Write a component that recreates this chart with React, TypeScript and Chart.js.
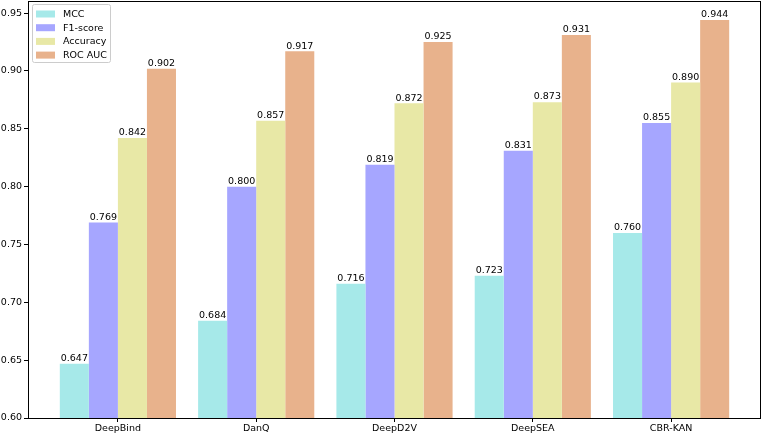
import { useEffect, useRef } from "react";
import Chart from "chart.js/auto";

const categories = ["DeepBind", "DanQ", "DeepD2V", "DeepSEA", "CBR-KAN"];
const seriesNames = ["MCC", "F1-score", "Accuracy", "ROC AUC"];
const mcc = [0.647, 0.684, 0.716, 0.723, 0.76];
const f1 = [0.769, 0.8, 0.819, 0.831, 0.855];
const accuracy = [0.842, 0.857, 0.872, 0.873, 0.89];
const rocAuc = [0.902, 0.917, 0.925, 0.931, 0.944];
const yTicks = [0.6, 0.65, 0.7, 0.75, 0.8, 0.85, 0.9, 0.95];

const colors = ["#a6e9e9", "#a6a6ff", "#e8e8a6", "#e8b28c"];
const FONT = "'DejaVu Sans', sans-serif";
const FONT_SIZE = 9.5;

const frameAndLabels = {
  id: "frameAndLabels",
  afterDatasetsDraw(chart: any) {
    const { ctx, chartArea } = chart;
    ctx.save();
    // value labels above the bars
    ctx.font = `${FONT_SIZE}px ${FONT}`;
    ctx.fillStyle = "#000";
    ctx.textAlign = "center";
    ctx.textBaseline = "bottom";
    chart.data.datasets.forEach((ds: any, i: number) => {
      const meta = chart.getDatasetMeta(i);
      meta.data.forEach((bar: any, j: number) => {
        ctx.fillText(ds.data[j].y.toFixed(3), bar.x, bar.y - 0.5);
      });
    });
    // frame
    ctx.strokeStyle = "#000";
    ctx.lineWidth = 1;
    ctx.strokeRect(
      Math.round(chartArea.left) + 0.5,
      Math.round(chartArea.top) + 0.5,
      Math.round(chartArea.right - chartArea.left) - 1,
      Math.round(chartArea.bottom - chartArea.top),
    );
    // legend
    const lx = chartArea.left + 4;
    const ly = chartArea.top + 3;
    ctx.fillStyle = "rgba(255,255,255,0.8)";
    ctx.strokeStyle = "#cccccc";
    ctx.beginPath();
    ctx.roundRect(lx + 0.5, ly + 0.5, 78, 58, 2);
    ctx.fill();
    ctx.stroke();
    ctx.textAlign = "left";
    ctx.textBaseline = "middle";
    seriesNames.forEach((name, i) => {
      const cy = ly + 10 + i * 13.7;
      ctx.fillStyle = colors[i];
      ctx.fillRect(lx + 4, cy - 3.5, 19, 7);
      ctx.fillStyle = "#000";
      ctx.fillText(name, lx + 31, cy + 0.5);
    });
    ctx.restore();
  },
};

export default function App() {
  const chartRef = useRef<HTMLCanvasElement>(null);
  const chartInstanceRef = useRef<Chart | null>(null);

  useEffect(() => {
    document.body.style.margin = "0";
    if (chartInstanceRef.current) {
      chartInstanceRef.current.destroy();
      chartInstanceRef.current = null;
    }
    if (!chartRef.current) return;
    const ctx = chartRef.current.getContext("2d");
    if (!ctx) return;

    const series = [mcc, f1, accuracy, rocAuc];
    const chart = new Chart(ctx, {
      type: "bar",
      data: {
        datasets: series.map((values, i) => ({
          label: seriesNames[i],
          data: values.map((v, j) => ({ x: j, y: v })),
          backgroundColor: colors[i],
          borderWidth: 0,
          categoryPercentage: 0.84,
          barPercentage: 1,
        })),
      },
      options: {
        animation: false,
        responsive: false,
        maintainAspectRatio: false,
        layout: { padding: { top: 1, right: 2, left: 0, bottom: 0 } },
        plugins: {
          legend: { display: false },
          tooltip: { enabled: false },
        },
        scales: {
          x: {
            type: "linear",
            offset: false,
            min: -0.65,
            max: 4.65,
            afterBuildTicks: (scale: any) => {
              scale.ticks = categories.map((_, i) => ({ value: i }));
            },
            afterFit: (scale: any) => {
              scale.height = 17;
              scale.paddingLeft = 0;
              scale.paddingRight = 0;
            },
            border: { display: false },
            grid: {
              offset: false,
              drawOnChartArea: false,
              drawTicks: true,
              tickLength: 4,
              color: "#000",
            },
            ticks: {
              padding: 1,
              color: "#000",
              font: { family: FONT, size: FONT_SIZE },
              maxRotation: 0,
              autoSkip: false,
              callback: (value: any) => categories[value as number] ?? "",
            },
          },
          y: {
            min: 0.6,
            max: 0.9605,
            afterBuildTicks: (scale: any) => {
              scale.ticks = yTicks.map((v) => ({ value: v }));
            },
            afterFit: (scale: any) => {
              scale.width = 28;
              scale.paddingTop = 0;
              scale.paddingBottom = 0;
            },
            border: { display: false },
            grid: {
              drawOnChartArea: false,
              drawTicks: true,
              tickLength: 4,
              color: "#000",
            },
            ticks: {
              padding: 2,
              color: "#000",
              font: { family: FONT, size: FONT_SIZE },
              callback: (value: any) => Number(value).toFixed(2),
            },
          },
        },
      },
      plugins: [frameAndLabels],
    });

    chartInstanceRef.current = chart;
    return () => {
      if (chartInstanceRef.current) {
        chartInstanceRef.current.destroy();
        chartInstanceRef.current = null;
      }
    };
  }, []);

  return (
    <div style={{ width: 763, height: 435 }}>
      <canvas ref={chartRef} width={763} height={435} style={{ width: 763, height: 435 }} />
    </div>
  );
}
